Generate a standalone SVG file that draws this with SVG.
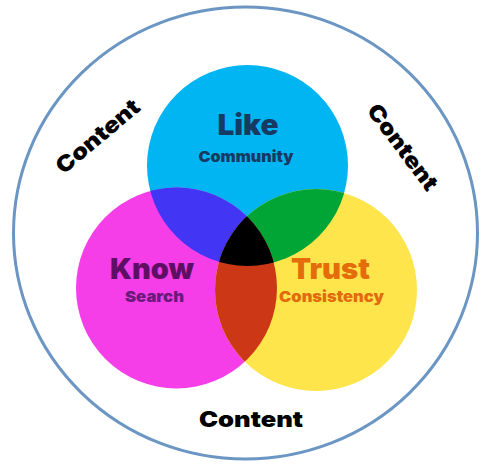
<svg xmlns="http://www.w3.org/2000/svg" width="489" height="467" viewBox="0 0 489 467">
<style>
.t{font-family:"Inter","Liberation Sans",Arial,sans-serif;font-weight:900;text-anchor:middle}
.big{font-size:28px}
.sm{font-size:15px}
.ct{font-size:22px;fill:#000}
</style>
<defs>
<clipPath id="cB"><circle cx="247.5" cy="165.5" r="100.5"/></clipPath>
<clipPath id="cM"><circle cx="176.5" cy="288" r="100.5"/></clipPath>
</defs>
<rect width="489" height="467" fill="#fff"/>
<g id="outer">
<ellipse cx="245.5" cy="233" rx="232" ry="226" fill="#fff" stroke="#6b96c3" stroke-width="3"/>
</g>
<g id="like">
<circle cx="247.5" cy="165.5" r="100.5" fill="#00b5f2"/>
</g>
<g id="know">
<circle cx="176.5" cy="288" r="100.5" fill="#f53ee8"/>
</g>
<g id="trust">
<circle cx="316" cy="290" r="101" fill="#ffe54c"/>
</g>
<g id="overlaps">
<circle cx="176.5" cy="288" r="100.5" fill="#4236f4" clip-path="url(#cB)"/>
<circle cx="316" cy="290" r="101" fill="#00a536" clip-path="url(#cB)"/>
<circle cx="316" cy="290" r="101" fill="#cc3816" clip-path="url(#cM)"/>
<g clip-path="url(#cB)"><circle cx="316" cy="290" r="101" fill="#000" clip-path="url(#cM)"/></g>
</g>
<g id="like-label">
<text class="t big" x="248" y="135" fill="#173a63" textLength="61" lengthAdjust="spacingAndGlyphs">Like</text>
<text class="t sm" x="246" y="162" fill="#173a63" textLength="95" lengthAdjust="spacingAndGlyphs">Community</text>
</g>
<g id="know-label">
<text class="t big" x="152" y="279" fill="#5e0f63" textLength="84" lengthAdjust="spacingAndGlyphs">Know</text>
<text class="t sm" x="154.5" y="302" fill="#6a1a7a" textLength="59" lengthAdjust="spacingAndGlyphs">Search</text>
</g>
<g id="trust-label">
<text class="t big" x="330.5" y="279" fill="#e46c0a" textLength="79" lengthAdjust="spacingAndGlyphs">Trust</text>
<text class="t sm" x="331.5" y="302" fill="#e26b10" textLength="105" lengthAdjust="spacingAndGlyphs">Consistency</text>
</g>
<g id="content-labels">
<text class="t ct" x="251" y="427" textLength="104" lengthAdjust="spacingAndGlyphs">Content</text>
<text class="t ct" transform="translate(97.5,136) rotate(-40)" x="0" y="8" textLength="102" lengthAdjust="spacingAndGlyphs">Content</text>
<text class="t ct" transform="translate(403,147) rotate(53)" x="0" y="8" textLength="102" lengthAdjust="spacingAndGlyphs">Content</text>
</g>
</svg>
